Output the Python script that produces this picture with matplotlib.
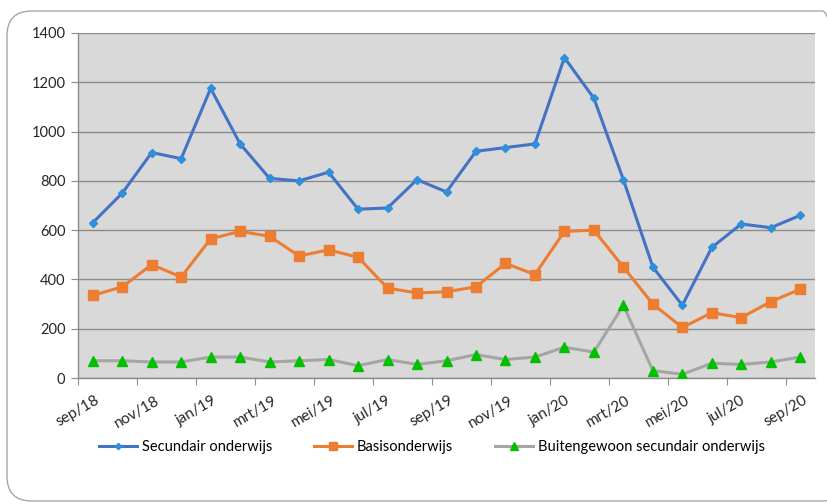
import matplotlib
matplotlib.use("Agg")
import matplotlib.pyplot as plt
from matplotlib.patches import FancyBboxPatch
import numpy as np

plt.rcParams['font.family'] = ['Lato', 'DejaVu Sans']

months = ["sep/18", "okt/18", "nov/18", "dec/18", "jan/19", "feb/19", "mrt/19", "apr/19",
          "mei/19", "jun/19", "jul/19", "aug/19", "sep/19", "okt/19", "nov/19", "dec/19",
          "jan/20", "feb/20", "mrt/20", "apr/20", "mei/20", "jun/20", "jul/20", "aug/20", "sep/20"]
secundair = [630, 750, 915, 890, 1175, 950, 810, 800, 835, 685, 690, 805, 755, 920, 935, 950,
             1300, 1135, 805, 450, 295, 530, 625, 610, 660]
basis = [335, 370, 460, 410, 565, 595, 575, 495, 520, 490, 365, 345, 350, 370, 465, 420,
         595, 600, 450, 300, 205, 265, 245, 310, 360]
buitengewoon = [70, 70, 65, 65, 85, 85, 65, 70, 75, 50, 75, 55, 70, 95, 75, 85,
                125, 105, 295, 30, 15, 60, 55, 65, 85]
tick_labels = months[::2]
yticks = [0, 200, 400, 600, 800, 1000, 1200, 1400]

fig = plt.figure(figsize=(8.28, 5.04), dpi=100)
border = FancyBboxPatch((7/828, 3/504), 840/828, 490/504, boxstyle="round,pad=0,rounding_size=0.03",
                        transform=fig.transFigure, fill=False, edgecolor='#A6A6A6', linewidth=1.0,
                        mutation_aspect=828/504)
fig.patches.append(border)

ax = fig.add_axes([78/828, 1-378/504, (815-78)/828, (378-33)/504])
ax.set_facecolor('#D9D9D9')
x = np.arange(len(months))
ax.plot(x, secundair, color='#4472C4', lw=2.2, marker='D', ms=4, mfc='#2F8FDB', mec='#2F8FDB',
        label='Secundair onderwijs', zorder=4)
ax.plot(x, basis, color='#ED7D31', lw=2.2, marker='s', ms=6.5, mfc='#ED7D31', mec='#ED7D31',
        label='Basisonderwijs', zorder=3)
ax.plot(x, buitengewoon, color='#A5A5A5', lw=2.2, marker='^', ms=6.5, mfc='#00C000', mec='#00C000',
        label='Buitengewoon secundair onderwijs', zorder=3)

ax.set_xlim(-0.5, len(months) - 0.5)
ax.set_ylim(0, 1400)
ax.set_yticks(yticks)
ax.set_yticklabels([str(v) for v in yticks], fontsize=10.5, color='#262626')
ax.yaxis.grid(True, color='#8C8C8C', lw=1.0)
ax.set_axisbelow(True)

tick_pos = np.arange(0, len(months), 2) - 0.5
ax.set_xticks(tick_pos)
ax.set_xticklabels(tick_labels, rotation=30, ha='center', fontsize=11, color='#262626')
ax.tick_params(axis='x', length=5, color='#8C8C8C', pad=6)
ax.tick_params(axis='y', length=5, color='#8C8C8C', pad=4)
for s in ['top', 'right']:
    ax.spines[s].set_visible(False)
for s in ['left', 'bottom']:
    ax.spines[s].set_color('#8C8C8C')
    ax.spines[s].set_linewidth(1.0)

fig.legend(loc='center', bbox_to_anchor=(432/828, 1-447/504), ncol=3, frameon=False,
           fontsize=10.5, handlelength=2.6, columnspacing=2.9, handletextpad=0.3, markerscale=0.8)

fig.savefig('out.png', dpi=100)
